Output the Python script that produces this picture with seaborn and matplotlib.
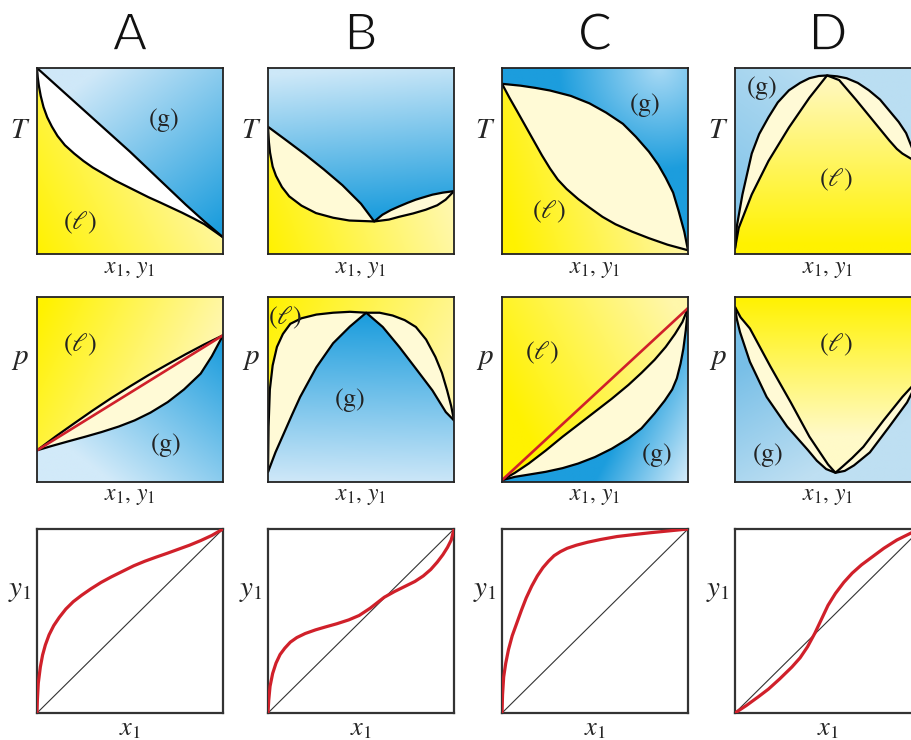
import numpy as np
import matplotlib
matplotlib.use("Agg")
import matplotlib.pyplot as plt
import matplotlib.patheffects as pe
import seaborn as sns
from matplotlib.colors import to_rgb
from matplotlib.patches import Polygon

columns = ["A", "B", "C", "D"]

# ---- T-x diagrams (upper curve = dew line, lower curve = bubble line) ----
A_T_up_x = [0, 0.1, 0.2, 0.3, 0.4, 0.5, 0.6, 0.7, 0.8, 0.9, 1.0]
A_T_up_y = [1.0, 0.91, 0.82, 0.73, 0.64, 0.55, 0.455, 0.36, 0.265, 0.175, 0.09]
A_T_lo_x = [0, 0.004, 0.01, 0.02, 0.035, 0.055, 0.08, 0.11, 0.15, 0.2, 0.25, 0.3, 0.36, 0.42,
            0.48, 0.54, 0.6, 0.66, 0.72, 0.78, 0.84, 0.9, 0.95, 1.0]
A_T_lo_y = [1.0, 0.95, 0.905, 0.85, 0.79, 0.735, 0.685, 0.635, 0.585, 0.54, 0.5, 0.465, 0.43, 0.395,
            0.365, 0.335, 0.305, 0.278, 0.25, 0.222, 0.192, 0.16, 0.125, 0.09]

B_T_up_x = [0, 0.1, 0.2, 0.3, 0.4, 0.5, 0.571, 0.615, 0.66, 0.705, 0.75, 0.794, 0.84, 0.884, 0.94, 1.0]
B_T_up_y = [0.684, 0.61, 0.535, 0.455, 0.37, 0.27, 0.175, 0.211, 0.236, 0.256, 0.275, 0.292, 0.306,
            0.319, 0.33, 0.338]
B_T_lo_x = [0, 0.005, 0.011, 0.025, 0.043, 0.075, 0.114, 0.18, 0.258, 0.35, 0.437, 0.571,
            0.65, 0.705, 0.78, 0.848, 0.91, 0.955, 1.0]
B_T_lo_y = [0.684, 0.60, 0.545, 0.47, 0.42, 0.36, 0.31, 0.26, 0.22, 0.195, 0.18, 0.175,
            0.185, 0.2, 0.218, 0.238, 0.262, 0.292, 0.338]

C_T_up_x = [0, 0.1, 0.18, 0.258, 0.37, 0.47, 0.56, 0.65, 0.72, 0.79, 0.84, 0.88, 0.92, 0.95, 0.98, 1.0]
C_T_up_y = [0.915, 0.905, 0.893, 0.879, 0.85, 0.81, 0.76, 0.70, 0.63, 0.55, 0.48, 0.41, 0.33, 0.23,
            0.12, 0.02]
C_T_lo_x = [0, 0.04, 0.08, 0.125, 0.17, 0.215, 0.258, 0.30, 0.347, 0.41, 0.47, 0.54, 0.61, 0.70,
            0.79, 0.89, 1.0]
C_T_lo_y = [0.915, 0.84, 0.77, 0.69, 0.61, 0.53, 0.46, 0.40, 0.35, 0.295, 0.25, 0.20, 0.16, 0.12,
            0.085, 0.05, 0.02]

D_T_up_x = [0, 0.01, 0.04, 0.09, 0.13, 0.18, 0.23, 0.29, 0.35, 0.40, 0.45, 0.495, 0.55, 0.60, 0.66,
            0.72, 0.78, 0.83, 0.88, 0.92, 0.96, 1.0]
D_T_up_y = [0.03, 0.15, 0.32, 0.54, 0.645, 0.735, 0.815, 0.88, 0.92, 0.945, 0.957, 0.96, 0.955, 0.945,
            0.92, 0.88, 0.83, 0.77, 0.71, 0.65, 0.55, 0.45]
D_T_lo_x = [0, 0.02, 0.09, 0.18, 0.29, 0.40, 0.495, 0.56, 0.65, 0.74, 0.83, 0.87, 0.90, 0.95, 1.0]
D_T_lo_y = [0.03, 0.14, 0.32, 0.50, 0.68, 0.84, 0.96, 0.935, 0.83, 0.72, 0.61, 0.565, 0.54, 0.51, 0.45]

# ---- p-x diagrams (upper curve = bubble line, lower curve = dew line) ----
A_p_up_x = [0, 0.1, 0.2, 0.3, 0.4, 0.5, 0.6, 0.7, 0.8, 0.9, 1.0]
A_p_up_y = [0.171, 0.246, 0.317, 0.387, 0.454, 0.517, 0.578, 0.635, 0.691, 0.744, 0.793]
A_p_lo_x = [0, 0.08, 0.169, 0.26, 0.347, 0.44, 0.525, 0.61, 0.703, 0.79, 0.88, 0.94, 1.0]
A_p_lo_y = [0.171, 0.195, 0.22, 0.245, 0.27, 0.30, 0.333, 0.375, 0.432, 0.50, 0.586, 0.68, 0.793]
A_p_ideal = [0.171, 0.793]

B_p_up_x = [0, 0.003, 0.01, 0.025, 0.048, 0.08, 0.12, 0.18, 0.26, 0.35, 0.44, 0.528, 0.60, 0.67,
            0.735, 0.795, 0.85, 0.9, 0.935, 0.963, 0.985, 1.0]
B_p_up_y = [0.054, 0.3, 0.5, 0.63, 0.73, 0.80, 0.855, 0.885, 0.905, 0.915, 0.92, 0.915, 0.915, 0.90,
            0.875, 0.838, 0.77, 0.676, 0.59, 0.495, 0.41, 0.333]
B_p_lo_x = [0, 0.04, 0.084, 0.13, 0.173, 0.26, 0.35, 0.44, 0.528, 0.617, 0.706, 0.795, 0.884, 0.956, 1.0]
B_p_lo_y = [0.054, 0.16, 0.26, 0.365, 0.46, 0.62, 0.75, 0.84, 0.915, 0.838, 0.73, 0.613, 0.495, 0.378, 0.333]

C_p_up_x = [0, 0.07, 0.144, 0.235, 0.326, 0.41, 0.50, 0.59, 0.68, 0.75, 0.82, 0.88, 0.93, 0.97, 1.0]
C_p_up_y = [0.01, 0.05, 0.10, 0.17, 0.245, 0.31, 0.38, 0.45, 0.525, 0.59, 0.66, 0.73, 0.80, 0.865, 0.94]
C_p_lo_x = [0, 0.07, 0.144, 0.235, 0.326, 0.41, 0.50, 0.59, 0.68, 0.75, 0.82, 0.875, 0.915, 0.94,
            0.96, 0.975, 0.988, 1.0]
C_p_lo_y = [0.01, 0.028, 0.04, 0.055, 0.075, 0.10, 0.135, 0.18, 0.235, 0.29, 0.37, 0.44, 0.50, 0.56,
            0.64, 0.72, 0.82, 0.94]
C_p_ideal = [0.01, 0.94]

D_p_up_x = [0, 0.03, 0.08, 0.19, 0.30, 0.40, 0.45, 0.50, 0.54, 0.58, 0.63, 0.69, 0.80, 0.90, 0.95, 1.0]
D_p_up_y = [0.946, 0.89, 0.83, 0.625, 0.43, 0.245, 0.17, 0.095, 0.05, 0.085, 0.13, 0.19, 0.335, 0.46,
            0.515, 0.6]
D_p_lo_x = [0, 0.01, 0.027, 0.08, 0.17, 0.28, 0.39, 0.44, 0.49, 0.54, 0.59, 0.64, 0.725, 0.83, 0.925,
            0.95, 1.0]
D_p_lo_y = [0.946, 0.88, 0.81, 0.65, 0.46, 0.30, 0.175, 0.115, 0.07, 0.05, 0.06, 0.09, 0.16, 0.30,
            0.43, 0.48, 0.6]

# ---- y-x diagrams ----
A_yx_x = [0, 0.002, 0.007, 0.018, 0.03, 0.045, 0.065, 0.09, 0.12, 0.155, 0.195, 0.24, 0.29, 0.345,
          0.4, 0.46, 0.52, 0.58, 0.64, 0.7, 0.76, 0.82, 0.88, 0.94, 1.0]
A_yx_y = [0, 0.07, 0.163, 0.25, 0.315, 0.37, 0.425, 0.475, 0.52, 0.565, 0.605, 0.64, 0.675, 0.71,
          0.74, 0.77, 0.8, 0.825, 0.847, 0.868, 0.89, 0.912, 0.937, 0.965, 1.0]
B_yx_x = [0, 0.004, 0.011, 0.025, 0.043, 0.065, 0.09, 0.12, 0.155, 0.2, 0.256, 0.31, 0.37, 0.434,
          0.49, 0.55, 0.625, 0.68, 0.74, 0.79, 0.835, 0.875, 0.91, 0.94, 0.965, 0.985, 1.0]
B_yx_y = [0, 0.07, 0.145, 0.215, 0.271, 0.318, 0.352, 0.385, 0.41, 0.432, 0.452, 0.468, 0.485, 0.506,
          0.53, 0.57, 0.629, 0.66, 0.69, 0.715, 0.745, 0.78, 0.82, 0.86, 0.9, 0.94, 1.0]
C_yx_x = [0, 0.003, 0.009, 0.02, 0.035, 0.055, 0.08, 0.105, 0.13, 0.16, 0.19, 0.22, 0.25, 0.28, 0.314,
          0.35, 0.40, 0.46, 0.53, 0.618, 0.71, 0.8, 0.9, 1.0]
C_yx_y = [0, 0.1, 0.196, 0.27, 0.345, 0.42, 0.49, 0.56, 0.625, 0.69, 0.745, 0.79, 0.825, 0.855, 0.877,
          0.895, 0.912, 0.928, 0.943, 0.959, 0.97, 0.98, 0.99, 1.0]
D_yx_x = [0, 0.06, 0.124, 0.18, 0.24, 0.306, 0.35, 0.39, 0.43, 0.465, 0.5, 0.54, 0.585, 0.63, 0.68,
          0.74, 0.8, 0.87, 0.95, 1.0]
D_yx_y = [0, 0.04, 0.087, 0.13, 0.185, 0.25, 0.3, 0.36, 0.435, 0.51, 0.585, 0.65, 0.71, 0.76, 0.805,
          0.85, 0.895, 0.94, 0.98, 1.0]

T_curves = {"A": (A_T_up_x, A_T_up_y, A_T_lo_x, A_T_lo_y),
            "B": (B_T_up_x, B_T_up_y, B_T_lo_x, B_T_lo_y),
            "C": (C_T_up_x, C_T_up_y, C_T_lo_x, C_T_lo_y),
            "D": (D_T_up_x, D_T_up_y, D_T_lo_x, D_T_lo_y)}
p_curves = {"A": (A_p_up_x, A_p_up_y, A_p_lo_x, A_p_lo_y),
            "B": (B_p_up_x, B_p_up_y, B_p_lo_x, B_p_lo_y),
            "C": (C_p_up_x, C_p_up_y, C_p_lo_x, C_p_lo_y),
            "D": (D_p_up_x, D_p_up_y, D_p_lo_x, D_p_lo_y)}
p_ideal = {"A": A_p_ideal, "C": C_p_ideal}
yx_curves = {"A": (A_yx_x, A_yx_y), "B": (B_yx_x, B_yx_y),
             "C": (C_yx_x, C_yx_y), "D": (D_yx_x, D_yx_y)}

# ---- styles ----
YEL = "#FFF200"
BLU = "#1C9DDD"
CREAM = "#FFFAD6"
RED = "#D0202A"

# gradient specs: (c0, c1, p0, p1) linear, or (c0, c1, center, radius) radial
T_style = {
    "A": dict(top=(BLU, "#CFE8F8", (1, 0.15), (0.35, 1.0)), bot=(YEL, "#FFF7A8", (0, 0), (0.9, 0.45)), mid="white"),
    "B": dict(top=(BLU, "#CDE8F8", (0.57, 0.2), (0.5, 1.0)), bot=(YEL, "#FFF8B5", (0, 0), (1, 0.35)), mid=CREAM),
    "C": dict(top=("#A9DAF5", BLU, (0.85, 1.0), 0.55), bot=(YEL, "#FFF6A5", (0.05, 0.1), (0.9, 0.35)), mid=CREAM),
    "D": dict(top=("#86C6EA", "#BADEF2", (0, 0.3), (0.5, 1.0)), bot=(YEL, "#FFF8B8", (0.5, 0.05), (0.5, 0.9)), mid=CREAM),
}
p_style = {
    "A": dict(top=(YEL, "#FFF7B0", (0.05, 1), (0.9, 0.6)), bot=(BLU, "#D2EAF9", (1, 0.75), (0.4, 0)), mid=CREAM),
    "B": dict(top=(YEL, "#FFF6A8", (0, 1), (1, 0.55)), bot=(BLU, "#CDE7F8", (0.52, 0.9), (0.5, 0)), mid=CREAM),
    "C": dict(top=(YEL, "#FFF7AA", (0, 0.5), (0.9, 1)), bot=(BLU, "#D5ECFA", (0.6, 0.2), (1, 0)), mid=CREAM),
    "D": dict(top=(YEL, "#FFFAC8", (0.5, 1), (0.5, 0.25)), bot=("#78BFE7", "#BEDFF2", (0, 0.6), (0.35, 0)), mid=CREAM),
}
G = r"$(\mathrm{g})$"
L = r"$(\ell)$"
T_labels = {"A": [(G, 0.68, 0.72), (L, 0.23, 0.17)], "B": [],
            "C": [(G, 0.77, 0.80), (L, 0.25, 0.225)],
            "D": [(G, 0.145, 0.89), (L, 0.54, 0.40)]}
p_labels = {"A": [(L, 0.23, 0.74), (G, 0.69, 0.20)],
            "B": [(L, 0.09, 0.886), (G, 0.44, 0.443)],
            "C": [(L, 0.215, 0.70), (G, 0.83, 0.146)],
            "D": [(L, 0.543, 0.74), (G, 0.177, 0.146)]}

sns.set_theme(style="white")
plt.rcParams["mathtext.fontset"] = "stix"
plt.rcParams["font.family"] = ["STIXGeneral", "DejaVu Serif"]

W, H = 912, 740
fig = plt.figure(figsize=(W / 100, H / 100), dpi=100)
lefts = [37, 268, 502, 735]
rows = [(68, 254), (297, 482), (529, 713)]


def make_ax(col, row):
    top, bot = rows[row]
    ax = fig.add_axes([lefts[col] / W, 1 - bot / H, 186 / W, (bot - top) / H])
    ax.set_xticks([])
    ax.set_yticks([])
    return ax


def gradient(ax, poly, spec):
    c0, c1, p0, p1 = spec
    n = 160
    gx, gy = np.meshgrid(np.linspace(0, 1, n), np.linspace(0, 1, n))
    if np.isscalar(p1):
        t = np.hypot(gx - p0[0], gy - p0[1]) / p1
    else:
        dx, dy = p1[0] - p0[0], p1[1] - p0[1]
        t = ((gx - p0[0]) * dx + (gy - p0[1]) * dy) / (dx * dx + dy * dy)
    t = np.clip(t, 0, 1)[..., None]
    img = np.array(to_rgb(c0)) * (1 - t) + np.array(to_rgb(c1)) * t
    im = ax.imshow(img, extent=(0, 1, 0, 1), origin="lower", aspect="auto",
                   interpolation="bilinear", zorder=0)
    patch = Polygon(poly, closed=True, transform=ax.transData, fc="none", ec="none")
    ax.add_patch(patch)
    im.set_clip_path(patch)


def phase_panel(ax, curves, style, labels, ylab):
    ux, uy, lx, ly = [np.asarray(c, float) for c in curves]
    top = np.column_stack([np.r_[ux, 1, 0], np.r_[uy, 1, 1]])
    bot = np.column_stack([np.r_[lx, 1, 0], np.r_[ly, 0, 0]])
    mid = np.column_stack([np.r_[ux, lx[::-1]], np.r_[uy, ly[::-1]]])
    gradient(ax, top, style["top"])
    gradient(ax, bot, style["bot"])
    ax.fill(mid[:, 0], mid[:, 1], color=style["mid"], lw=0, zorder=1)
    for cx, cy in ((ux, uy), (lx, ly)):
        sns.lineplot(x=cx, y=cy, sort=False, estimator=None, color="black", lw=1.6,
                     ax=ax, zorder=3, solid_joinstyle="round", solid_capstyle="round")
    for txt, tx, ty in labels:
        ax.text(tx, ty, txt, transform=ax.transAxes, fontsize=19, ha="center", va="center",
                color="#222222", zorder=5)
    ax.text(-0.09, 0.66, ylab, transform=ax.transAxes, fontsize=21, ha="center", va="center")
    ax.text(0.5, -0.08, r"$x_1$, $y_1$", transform=ax.transAxes, fontsize=17,
            ha="center", va="center")
    ax.set_xlim(0, 1)
    ax.set_ylim(0, 1)
    for s in ax.spines.values():
        s.set_color("#222222")
        s.set_linewidth(1.3)
        s.set_zorder(6)


for i, col in enumerate(columns):
    # thin the column letters a little with a white halo drawn over the glyph edge
    fig.text((lefts[i] + 93) / W, 1 - 36 / H, col, fontsize=37, ha="center", va="center",
             family=["Lato", "DejaVu Sans"], fontweight="normal", color="#111111",
             path_effects=[pe.Normal(), pe.Stroke(linewidth=1.2, foreground="white")])

    ax = make_ax(i, 0)
    phase_panel(ax, T_curves[col], T_style[col], T_labels[col], r"$T$")

    ax = make_ax(i, 1)
    phase_panel(ax, p_curves[col], p_style[col], p_labels[col], r"$p$")
    if col in p_ideal:
        sns.lineplot(x=[0, 1], y=p_ideal[col], color=RED, lw=1.9, ax=ax, zorder=4)
        ax.set_xlim(0, 1)
        ax.set_ylim(0, 1)

    ax = make_ax(i, 2)
    ax.set_facecolor("white")
    sns.lineplot(x=[0, 1], y=[0, 1], color="#333333", lw=0.8, ax=ax, zorder=2)
    xs, ys = yx_curves[col]
    sns.lineplot(x=xs, y=ys, sort=False, estimator=None, color=RED, lw=2.3, ax=ax, zorder=3,
                 solid_joinstyle="round", solid_capstyle="round")
    ax.set_xlim(0, 1)
    ax.set_ylim(0, 1)
    ax.set_xlabel("")
    ax.set_ylabel("")
    ax.text(-0.09, 0.66, r"$y_1$", transform=ax.transAxes, fontsize=21, ha="center", va="center")
    ax.text(0.5, -0.09, r"$x_1$", transform=ax.transAxes, fontsize=19, ha="center", va="center")
    for s in ax.spines.values():
        s.set_color("#333333")
        s.set_linewidth(1.6)

fig.savefig("out.png", dpi=100)
